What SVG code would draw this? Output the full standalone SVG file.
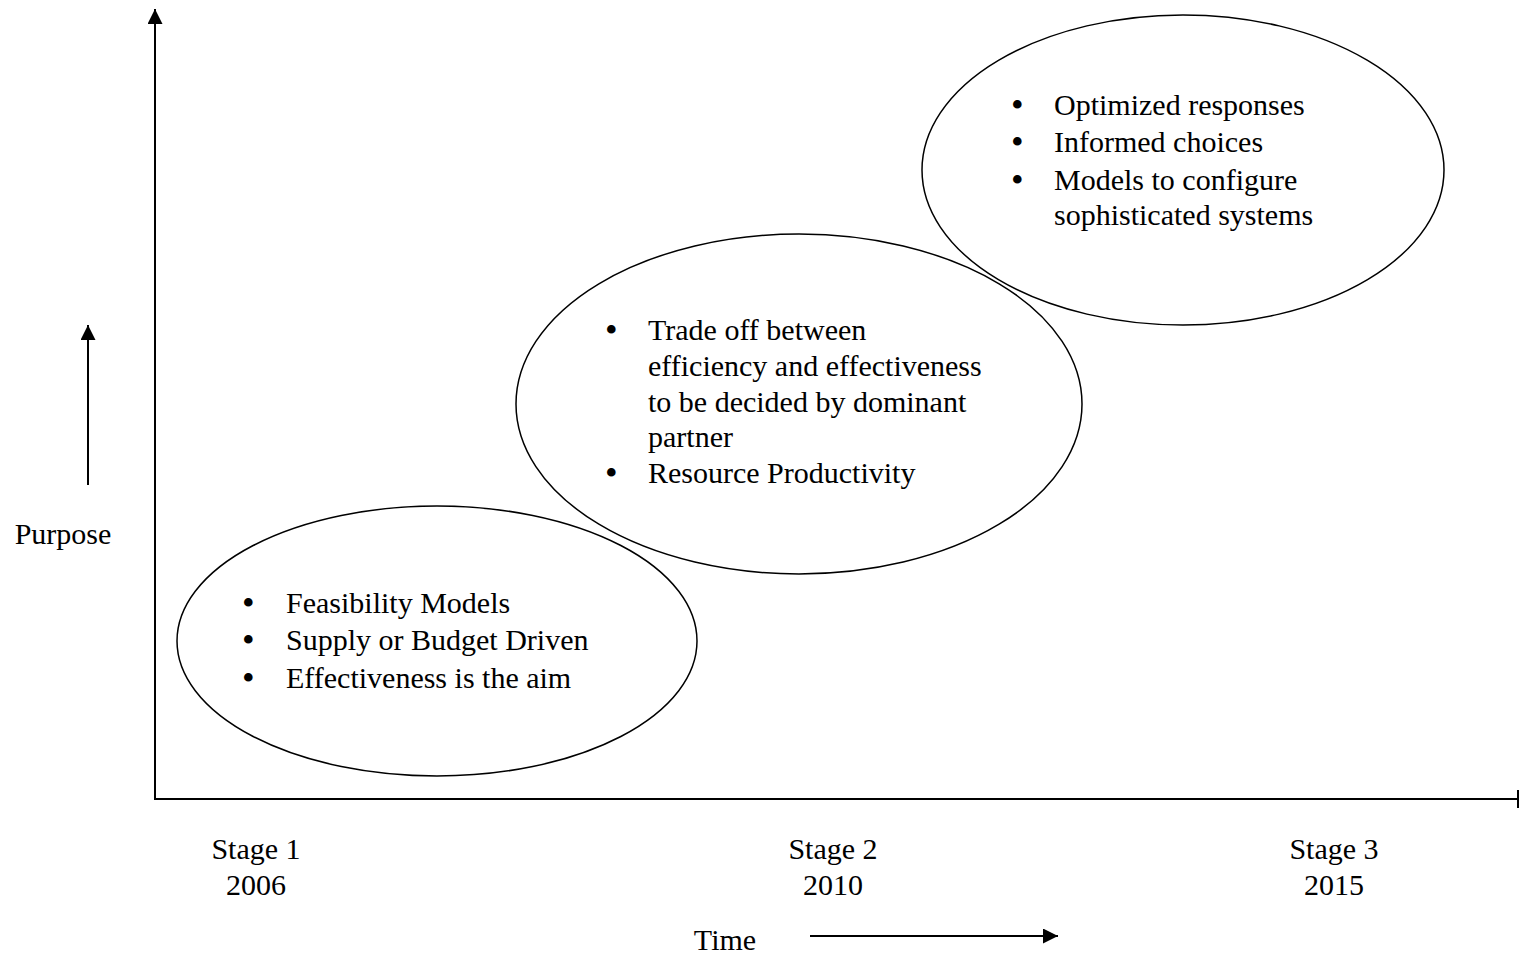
<svg xmlns="http://www.w3.org/2000/svg" width="1520" height="955" viewBox="0 0 1520 955">
<style>
text{font-family:"Liberation Serif","Times New Roman",serif;font-size:30px;fill:#000}
.m{text-anchor:middle}
.b{font-size:36px}
.e{fill:none;stroke:#000;stroke-width:1.5}
.l{stroke:#000;stroke-width:2;fill:none}
</style>
<defs>
<marker id="ah" viewBox="0 0 10 10" refX="10" refY="5" markerWidth="7.5" markerHeight="7.5" orient="auto" markerUnits="strokeWidth"><path d="M0,0L10,5L0,10z" fill="#000"/></marker>
</defs>
<rect width="1520" height="955" fill="#fff"/>
<g id="connectors">
<line class="l" x1="155" y1="799" x2="155" y2="9" marker-end="url(#ah)"/>
<line class="l" x1="154" y1="799" x2="1518" y2="799"/>
<line class="l" x1="1518" y1="790" x2="1518" y2="808"/>
<line class="l" x1="88" y1="485" x2="88" y2="325" marker-end="url(#ah)"/>
<line class="l" x1="810" y1="936" x2="1058" y2="936" marker-end="url(#ah)"/>
</g>
<g id="labels">
<text x="63" y="544" class="m">Purpose</text>
<text x="725" y="950" class="m">Time</text>
<text x="256" y="859" class="m">Stage 1</text>
<text x="256" y="895" class="m">2006</text>
<text x="833" y="859" class="m">Stage 2</text>
<text x="833" y="895" class="m">2010</text>
<text x="1334" y="859" class="m">Stage 3</text>
<text x="1334" y="895" class="m">2015</text>
</g>
<g id="stage1">
<ellipse class="e" cx="437" cy="641" rx="260" ry="135"/>
<text y="613"><tspan x="242" class="b" dy="2">•</tspan><tspan x="286" dy="-2">Feasibility Models</tspan></text>
<text y="650"><tspan x="242" class="b" dy="2">•</tspan><tspan x="286" dy="-2">Supply or Budget Driven</tspan></text>
<text y="688"><tspan x="242" class="b" dy="2">•</tspan><tspan x="286" dy="-2">Effectiveness is the aim</tspan></text>
</g>
<g id="stage2">
<ellipse class="e" cx="799" cy="404" rx="283" ry="170"/>
<text y="340"><tspan x="605" class="b" dy="2">•</tspan><tspan x="648" dy="-2">Trade off between</tspan></text>
<text x="648" y="376">efficiency and effectiveness</text>
<text x="648" y="412">to be decided by dominant</text>
<text x="648" y="447">partner</text>
<text y="483"><tspan x="605" class="b" dy="2">•</tspan><tspan x="648" dy="-2">Resource Productivity</tspan></text>
</g>
<g id="stage3">
<ellipse class="e" cx="1183" cy="170" rx="261" ry="155"/>
<text y="115"><tspan x="1011" class="b" dy="2">•</tspan><tspan x="1054" dy="-2">Optimized responses</tspan></text>
<text y="152"><tspan x="1011" class="b" dy="2">•</tspan><tspan x="1054" dy="-2">Informed choices</tspan></text>
<text y="190"><tspan x="1011" class="b" dy="2">•</tspan><tspan x="1054" dy="-2">Models to configure</tspan></text>
<text x="1054" y="225">sophisticated systems</text>
</g>
</svg>
